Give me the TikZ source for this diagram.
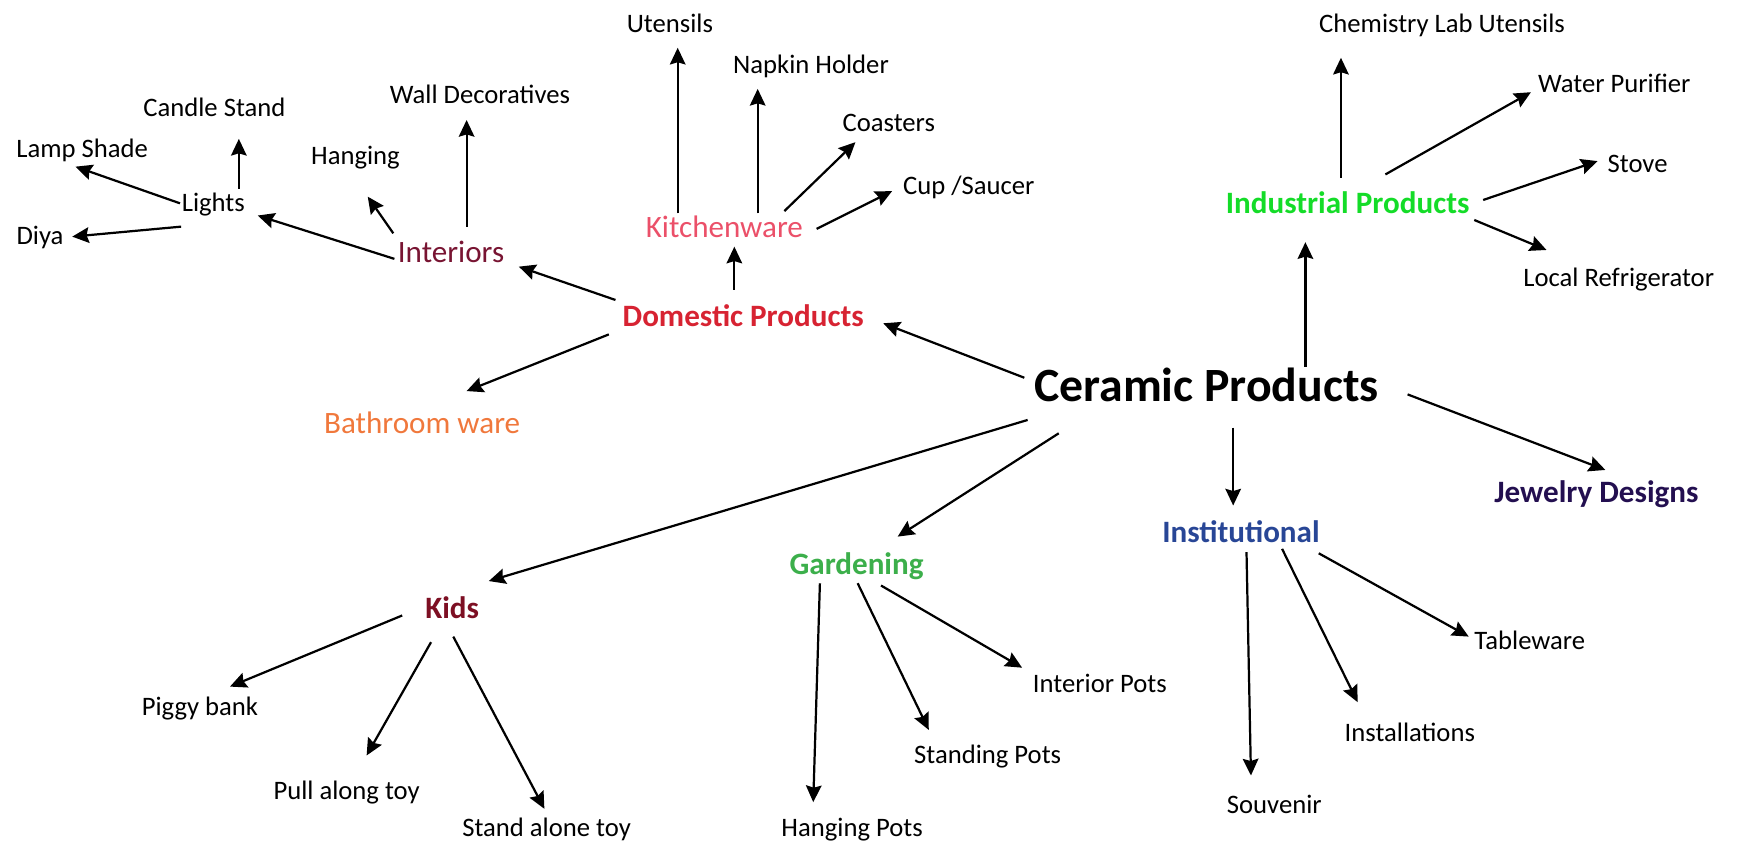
\documentclass[tikz,border=0pt]{standalone}
\usepackage{fontspec}
\setmainfont{Carlito}
\usetikzlibrary{arrows.meta}

\definecolor{domred}{RGB}{215,35,50}
\definecolor{indgreen}{RGB}{20,220,40}
\definecolor{intred}{RGB}{120,20,50}
\definecolor{kitpink}{RGB}{235,80,105}
\definecolor{bathorange}{RGB}{240,120,60}
\definecolor{kidsred}{RGB}{125,15,35}
\definecolor{gardgreen}{RGB}{60,175,75}
\definecolor{instblue}{RGB}{40,70,150}
\definecolor{jewpurple}{RGB}{35,15,80}

\tikzset{
  item/.style={inner sep=0pt,text height=1em,text depth=.1em,font=\fontsize{12}{14}\selectfont},
  group/.style={item,font=\fontsize{14}{17}\selectfont},
  boldgroup/.style={item,font=\fontsize{14}{17}\selectfont\bfseries},
  arr/.style={line width=1pt,-{Stealth[length=7.5pt,width=7pt,inset=1pt]}}
}

\begin{document}
\begin{tikzpicture}[x=0.5pt,y=-0.5pt]
\useasboundingbox (0,0) rectangle (1568,757);

% root
\node[item,font=\fontsize{21.5}{25}\selectfont\bfseries] (cer) at (1086,352) {Ceramic Products};

% groups
\node[boldgroup,text=domred] (dom) at (669,285) {Domestic Products};
\node[boldgroup,text=indgreen] (ind) at (1213,183) {Industrial Products};
\node[group,text=intred] (inte) at (406,227) {Interiors};
\node[group,text=kitpink] (kitch) at (652,205) {Kitchenware};
\node[group,text=bathorange] (bath) at (380,381) {Bathroom ware};
\node[item] (lights) at (192,181) {Lights};
\node[boldgroup,text=kidsred] (kids) at (407,548) {Kids};
\node[boldgroup,text=gardgreen] (gard) at (771,508) {Gardening};
\node[boldgroup,text=instblue] (inst) at (1117,479) {Institutional};
\node[boldgroup,text=jewpurple] (jew) at (1437,443) {Jewelry Designs};

% leaves
\node[item] (uten) at (603,20) {Utensils};
\node[item] (napk) at (730,57) {Napkin Holder};
\node[item] (coas) at (800,109) {Coasters};
\node[item] (cup) at (872,166) {Cup /Saucer};
\node[item] (wall) at (432,84) {Wall Decoratives};
\node[item] (hang) at (320,139) {Hanging};
\node[item] (cand) at (193,96) {Candle Stand};
\node[item] (lamp) at (74,133) {Lamp Shade};
\node[item] (diya) at (36,211) {Diya};
\node[item] (chem) at (1298,20) {Chemistry Lab Utensils};
\node[item] (water) at (1453,74) {Water Purifier};
\node[item] (stove) at (1474,146) {Stove};
\node[item] (local) at (1457,249) {Local Refrigerator};
\node[item] (piggy) at (180,635) {Piggy bank};
\node[item] (pull) at (312,711) {Pull along toy};
\node[item] (stand) at (492,744) {Stand alone toy};
\node[item] (hpots) at (767,744) {Hanging Pots};
\node[item] (spots) at (889,678) {Standing Pots};
\node[item] (ipots) at (990,614) {Interior Pots};
\node[item] (souv) at (1147,723) {Souvenir};
\node[item] (instal) at (1269,658) {Installations};
\node[item] (table) at (1377,576) {Tableware};

% arrows from the root
\draw[arr] ([shift={(-164,-12)}]cer.center) -- ([shift={(126,6)}]dom.center);
\draw[arr] ([shift={(89,-22)}]cer.center) -- ([shift={(-38,35)}]ind.center);
\draw[arr] ([shift={(181,3)}]cer.center) -- ([shift={(8,-20)}]jew.center);
\draw[arr] ([shift={(24,33)}]cer.center) -- ([shift={(-7,-24)}]inst.center);
\draw[arr] ([shift={(-161,26)}]cer.center) -- ([shift={(33,-25)}]kids.center);
\draw[arr] ([shift={(-133,38)}]cer.center) -- ([shift={(37,-25)}]gard.center);

% domestic
\draw[arr] ([shift={(-121,16)}]dom.center) -- ([shift={(40,-29)}]bath.center);
\draw[arr] ([shift={(-115,-15)}]dom.center) -- ([shift={(61,13)}]inte.center);
\draw[arr] ([shift={(-8,-24)}]dom.center) -- ([shift={(9,17)}]kitch.center);
\draw[arr] ([shift={(-51,6)}]inte.center) -- ([shift={(40,13)}]lights.center);
\draw[arr] ([shift={(-52,-17)}]inte.center) -- ([shift={(11,38)}]hang.center);
\draw[arr] ([shift={(14,-23)}]inte.center) -- ([shift={(-12,24)}]wall.center);
\draw[arr] ([shift={(-30,2)}]lights.center) -- ([shift={(-6,17)}]lamp.center);
\draw[arr] ([shift={(23,-11)}]lights.center) -- ([shift={(22,29)}]cand.center);
\draw[arr] ([shift={(-29,23)}]lights.center) -- ([shift={(29,2)}]diya.center);
\draw[arr] ([shift={(-42,-13)}]kitch.center) -- ([shift={(7,23)}]uten.center);
\draw[arr] ([shift={(30,-13)}]kitch.center) -- ([shift={(-48,23)}]napk.center);
\draw[arr] ([shift={(54,-15)}]kitch.center) -- ([shift={(-30,19)}]coas.center);
\draw[arr] ([shift={(83,1)}]kitch.center) -- ([shift={(-69,6)}]cup.center);

% industrial
\draw[arr] ([shift={(-6,-23)}]ind.center) -- ([shift={(-91,32)}]chem.center);
\draw[arr] ([shift={(34,-26)}]ind.center) -- ([shift={(-75,9)}]water.center);
\draw[arr] ([shift={(122,-3)}]ind.center) -- ([shift={(-36,-1)}]stove.center);
\draw[arr] ([shift={(114,15)}]ind.center) -- ([shift={(-65,-24)}]local.center);

% institutional
\draw[arr] ([shift={(5,18)}]inst.center) -- ([shift={(-21,-25)}]souv.center);
\draw[arr] ([shift={(37,15)}]inst.center) -- ([shift={(-47,-26)}]instal.center);
\draw[arr] ([shift={(70,19)}]inst.center) -- ([shift={(-55,-3)}]table.center);

% kids
\draw[arr] ([shift={(-45,6)}]kids.center) -- ([shift={(27,-17)}]piggy.center);
\draw[arr] ([shift={(-19,30)}]kids.center) -- ([shift={(18,-31)}]pull.center);
\draw[arr] ([shift={(1,25)}]kids.center) -- ([shift={(-2,-16)}]stand.center);

% gardening
\draw[arr] ([shift={(-33,17)}]gard.center) -- ([shift={(-35,-22)}]hpots.center);
\draw[arr] ([shift={(1,17)}]gard.center) -- ([shift={(-53,-21)}]spots.center);
\draw[arr] ([shift={(22,19)}]gard.center) -- ([shift={(-70,-13)}]ipots.center);
\end{tikzpicture}
\end{document}
